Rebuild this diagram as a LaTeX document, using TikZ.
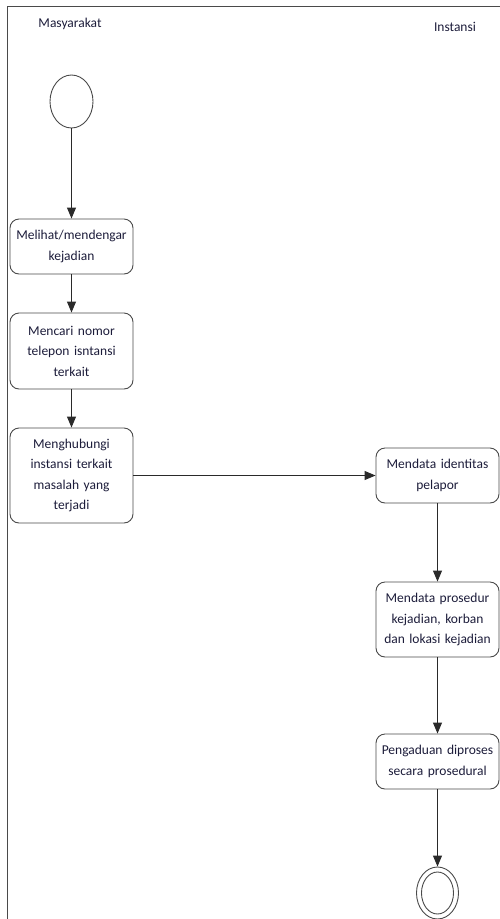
\documentclass[tikz,border=0pt]{standalone}
\usepackage{fontspec}
\setmainfont{Carlito}
\usetikzlibrary{arrows.meta,shapes.geometric}
\definecolor{txt}{HTML}{1C1C3A}
\definecolor{ln}{HTML}{4A4A4A}
\definecolor{arr}{HTML}{2A2A2A}
\begin{document}
\begin{tikzpicture}[x=1pt,y=-1pt,
  act/.style={draw=ln, line width=0.9pt, rounded corners=9pt, minimum width=123pt, text width=115pt, align=center, inner sep=0pt, text=txt, font=\fontsize{13.5}{20.5}\selectfont},
  flow/.style={draw=arr, line width=0.9pt, -{Triangle[length=11pt,width=9pt]}},
  lane/.style={font=\fontsize{13.5}{16}\selectfont, text=txt}]
\useasboundingbox (0,0) rectangle (500,919);
\draw[ln, line width=1pt] (7,919) -- (7,6) -- (500,6);
\node[lane] (l1) at (70,24) {Masyarakat};
\node[lane] (l2) at (455,27) {Instansi};
\node[draw=ln, line width=0.9pt, ellipse, minimum width=43pt, minimum height=53pt, inner sep=0pt] (start) at (71.5,101.5) {};
\node[act, minimum height=55pt] (a1) at (71.5,246.5) {Melihat/mendengar\\kejadian};
\node[act, minimum height=76pt] (a2) at (71.5,351) {Mencari nomor\\telepon isntansi\\terkait};
\node[act, minimum height=95pt] (a3) at (71.5,475.5) {Menghubungi\\instansi terkait\\masalah yang\\terjadi};
\node[act, minimum height=55pt] (b1) at (437.5,475.5) {Mendata identitas\\pelapor};
\node[act, minimum height=75pt] (b2) at (437.5,619.5) {Mendata prosedur\\kejadian, korban\\dan lokasi kejadian};
\node[act, minimum height=55pt] (b3) at (437.5,761.5) {Pengaduan diproses\\secara prosedural};
\node[draw=ln, line width=0.9pt, ellipse, minimum width=42pt, minimum height=52pt, inner sep=0pt] (end) at (437.5,893) {};
\node[draw=ln, line width=0.9pt, ellipse, minimum width=32pt, minimum height=42pt, inner sep=0pt] (endin) at (437.5,893) {};
\draw[flow] (start) -- (a1);
\draw[flow] (a1) -- (a2);
\draw[flow] (a2) -- (a3);
\draw[flow] (a3) -- (b1);
\draw[flow] (b1) -- (b2);
\draw[flow] (b2) -- (b3);
\draw[flow] (b3) -- (end);
\end{tikzpicture}
\end{document}
